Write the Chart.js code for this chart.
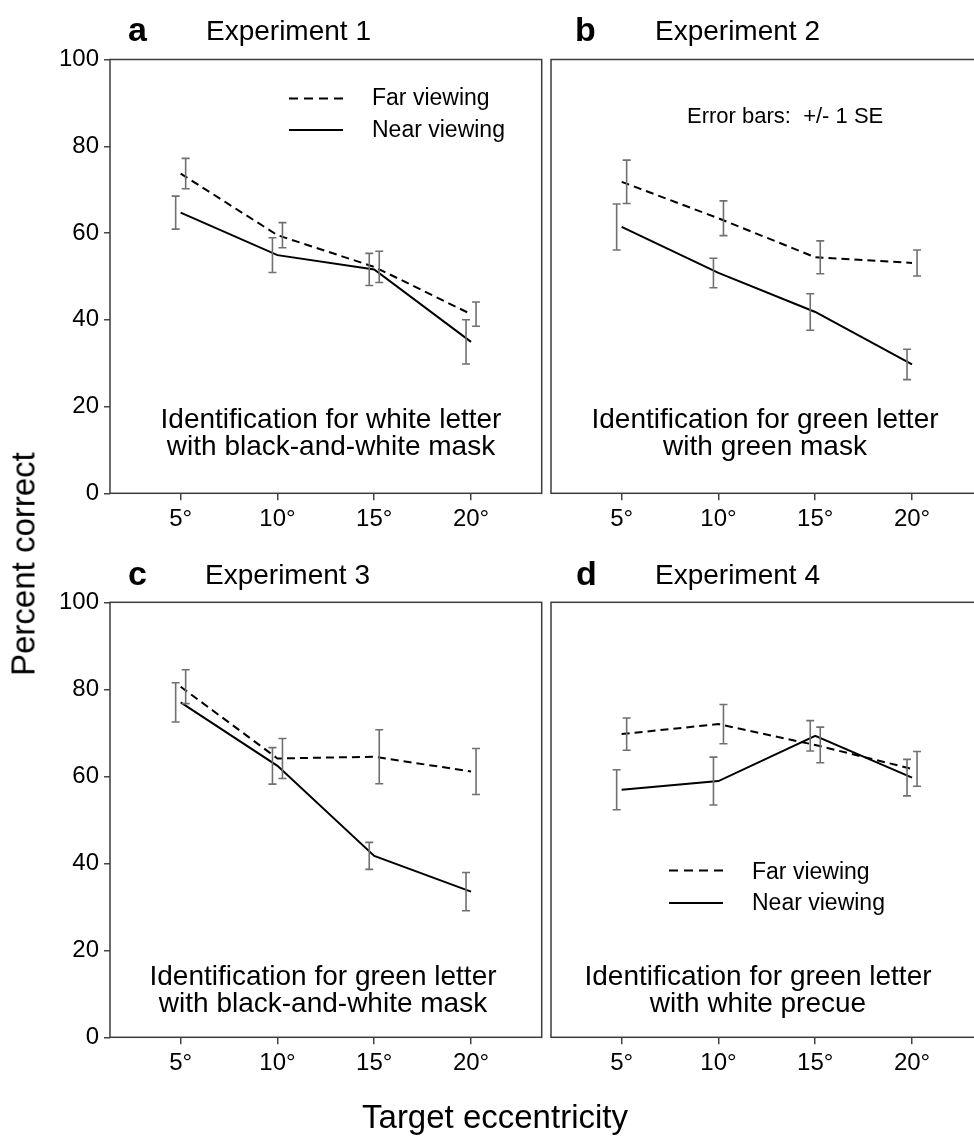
<!DOCTYPE html>
<html>
<head>
<meta charset="utf-8">
<script src="https://cdn.jsdelivr.net/npm/chart.js@4"></script>
<style>
  html, body { margin: 0; padding: 0; background: #fff; }
  body { width: 974px; height: 1137px; overflow: hidden; position: relative;
         font-family: "Liberation Sans", Arial, sans-serif; color: #000; }
  .abs { position: absolute; white-space: nowrap; }
  canvas { position: absolute; }
  .letter { font-size: 34px; font-weight: bold; line-height: 34px; }
  .title { font-size: 28px; line-height: 28px; }
  .note { font-size: 28px; line-height: 27px; text-align: center; transform: translateX(-50%); }
  .leg { font-size: 23px; line-height: 23px; }
</style>
</head>
<body>
<canvas id="ca" width="548" height="521" style="left:0;top:39px"></canvas>
<canvas id="cb" width="440" height="521" style="left:546px;top:39px"></canvas>
<canvas id="cc" width="548" height="521" style="left:0;top:582px"></canvas>
<canvas id="cd" width="440" height="521" style="left:546px;top:582px"></canvas>

<div class="abs letter" style="left:128px;top:12px">a</div>
<div class="abs title" style="left:206px;top:17px">Experiment 1</div>
<div class="abs letter" style="left:575px;top:12px">b</div>
<div class="abs title" style="left:655px;top:17px">Experiment 2</div>
<div class="abs letter" style="left:128px;top:556px">c</div>
<div class="abs title" style="left:205px;top:561px">Experiment 3</div>
<div class="abs letter" style="left:576px;top:556px">d</div>
<div class="abs title" style="left:655px;top:561px">Experiment 4</div>

<div class="abs note" style="left:331px;top:405px">Identification for white letter<br>with black-and-white mask</div>
<div class="abs note" style="left:765px;top:405px">Identification for green letter<br>with green mask</div>
<div class="abs note" style="left:323px;top:962px">Identification for green letter<br>with black-and-white mask</div>
<div class="abs note" style="left:758px;top:962px">Identification for green letter<br>with white precue</div>

<div class="abs" style="left:687px;top:105px;font-size:22px;line-height:22px;white-space:pre">Error bars:  +/- 1 SE</div>

<svg class="abs" style="left:289px;top:90px" width="56" height="50">
  <line x1="0" y1="8.5" x2="54" y2="8.5" stroke="#000" stroke-width="2" stroke-dasharray="9,6"/>
  <line x1="0" y1="40" x2="54" y2="40" stroke="#000" stroke-width="2"/>
</svg>
<div class="abs leg" style="left:372px;top:86px">Far viewing</div>
<div class="abs leg" style="left:372px;top:118px">Near viewing</div>

<svg class="abs" style="left:669px;top:862px" width="56" height="50">
  <line x1="0" y1="8.5" x2="54" y2="8.5" stroke="#000" stroke-width="2" stroke-dasharray="9,6"/>
  <line x1="0" y1="41" x2="54" y2="41" stroke="#000" stroke-width="2"/>
</svg>
<div class="abs leg" style="left:752px;top:860px">Far viewing</div>
<div class="abs leg" style="left:752px;top:891px">Near viewing</div>

<div class="abs" style="left:23px;top:564px;font-size:33px;line-height:33px;transform:translate(-50%,-50%) rotate(-90deg)">Percent correct</div>
<div class="abs" style="left:495px;top:1100px;font-size:33px;line-height:33px;transform:translateX(-50%)">Target eccentricity</div>

<script>
const eccentricity = [5, 10, 15, 20];
const xTickLabels = ["5°", "10°", "15°", "20°"];
const yTicks = [0, 20, 40, 60, 80, 100];

// Experiment 1
const farA = [73.7, 59.5, 52.2, 41.3];
const seFarA = [3.5, 2.9, 3.6, 2.8];
const nearA = [64.7, 54.9, 51.6, 34.9];
const seNearA = [3.8, 4.0, 3.7, 5.1];

// Experiment 2
const farB = [71.8, 63.4, 54.4, 53.1];
const seFarB = [5.0, 4.0, 3.8, 3.0];
const nearB = [61.4, 50.8, 41.8, 29.7];
const seNearB = [5.3, 3.4, 4.2, 3.5];

// Experiment 3
const farC = [80.6, 64.1, 64.5, 61.1];
const seFarC = [3.9, 4.6, 6.2, 5.3];
const nearC = [77.0, 62.4, 41.7, 33.5];
const seNearC = [4.5, 4.2, 3.1, 4.4];

// Experiment 4
const farD = [69.7, 72.0, 67.2, 61.7];
const seFarD = [3.7, 4.5, 4.1, 4.0];
const nearD = [56.9, 58.9, 69.3, 59.7];
const seNearD = [4.6, 5.5, 3.5, 4.2];

Chart.defaults.font.family = "'Liberation Sans', Arial, sans-serif";
Chart.defaults.color = "#000";

const boxPlugin = {
  id: "box",
  afterDraw(chart) {
    const a = chart.chartArea;
    const ctx = chart.ctx;
    ctx.save();
    ctx.strokeStyle = "#3c3c3c";
    ctx.lineWidth = 1.5;
    ctx.strokeRect(a.left, a.top, a.right - a.left, a.bottom - a.top);
    ctx.restore();
  },
};

const errorBars = {
  id: "errorBars",
  afterDatasetsDraw(chart) {
    const ctx = chart.ctx;
    const xs = chart.scales.x;
    const ys = chart.scales.y;
    ctx.save();
    ctx.strokeStyle = "#707070";
    ctx.lineWidth = 1.6;
    chart.data.datasets.forEach((ds) => {
      ds.data.forEach((p, i) => {
        const x = xs.getPixelForValue(p.x) + ds.barOffset;
        const y1 = ys.getPixelForValue(p.y + ds.se[i]);
        const y2 = ys.getPixelForValue(p.y - ds.se[i]);
        ctx.beginPath();
        ctx.moveTo(x, y1); ctx.lineTo(x, y2);
        ctx.moveTo(x - 4, y1); ctx.lineTo(x + 4, y1);
        ctx.moveTo(x - 4, y2); ctx.lineTo(x + 4, y2);
        ctx.stroke();
      });
    });
    ctx.restore();
  },
};

function points(vals) {
  return eccentricity.map((e, i) => ({ x: e, y: vals[i] }));
}

function makePanel(id, far, seFar, near, seNear, showY, padTop, xHeight) {
  new Chart(document.getElementById(id), {
    type: "line",
    data: {
      datasets: [
        {
          label: "Far viewing",
          data: points(far),
          se: seFar,
          barOffset: 5,
          borderColor: "#000",
          borderWidth: 2,
          borderDash: [8, 5],
          pointRadius: 0,
          tension: 0,
        },
        {
          label: "Near viewing",
          data: points(near),
          se: seNear,
          barOffset: -5,
          borderColor: "#000",
          borderWidth: 2,
          pointRadius: 0,
          tension: 0,
        },
      ],
    },
    options: {
      responsive: false,
      animation: false,
      layout: { padding: { top: padTop, right: showY ? 6.3 : 3.3, left: showY ? 0 : 5, bottom: 0 } },
      plugins: { legend: { display: false }, tooltip: { enabled: false } },
      scales: {
        x: {
          type: "linear",
          min: 1.35,
          max: 23.65,
          afterBuildTicks: (s) => { s.ticks = eccentricity.map((v) => ({ value: v })); },
          afterFit: (s) => { s.height = xHeight; },
          ticks: {
            callback: (v) => xTickLabels[eccentricity.indexOf(v)],
            font: { size: 24 },
            padding: 5,
            maxRotation: 0,
          },
          grid: { drawOnChartArea: false, tickLength: 7, color: "#444", lineWidth: 1.5 },
          border: { display: false },
        },
        y: {
          display: showY,
          min: 0,
          max: 100,
          afterBuildTicks: (s) => { s.ticks = yTicks.map((v) => ({ value: v })); },
          afterFit: (s) => { s.width = showY ? 110 : 0; },
          ticks: { font: { size: 24 }, padding: 5 },
          grid: { drawOnChartArea: false, tickLength: 6, color: "#444", lineWidth: 1.5 },
          border: { display: false },
        },
      },
    },
    plugins: [boxPlugin, errorBars],
  });
}

makePanel("ca", farA, seFarA, nearA, seNearA, true, 20.5, 66.7);
makePanel("cb", farB, seFarB, nearB, seNearB, false, 20.5, 66.7);
makePanel("cc", farC, seFarC, nearC, seNearC, true, 20.3, 65.7);
makePanel("cd", farD, seFarD, nearD, seNearD, false, 20.3, 65.7);
</script>
</body>
</html>
